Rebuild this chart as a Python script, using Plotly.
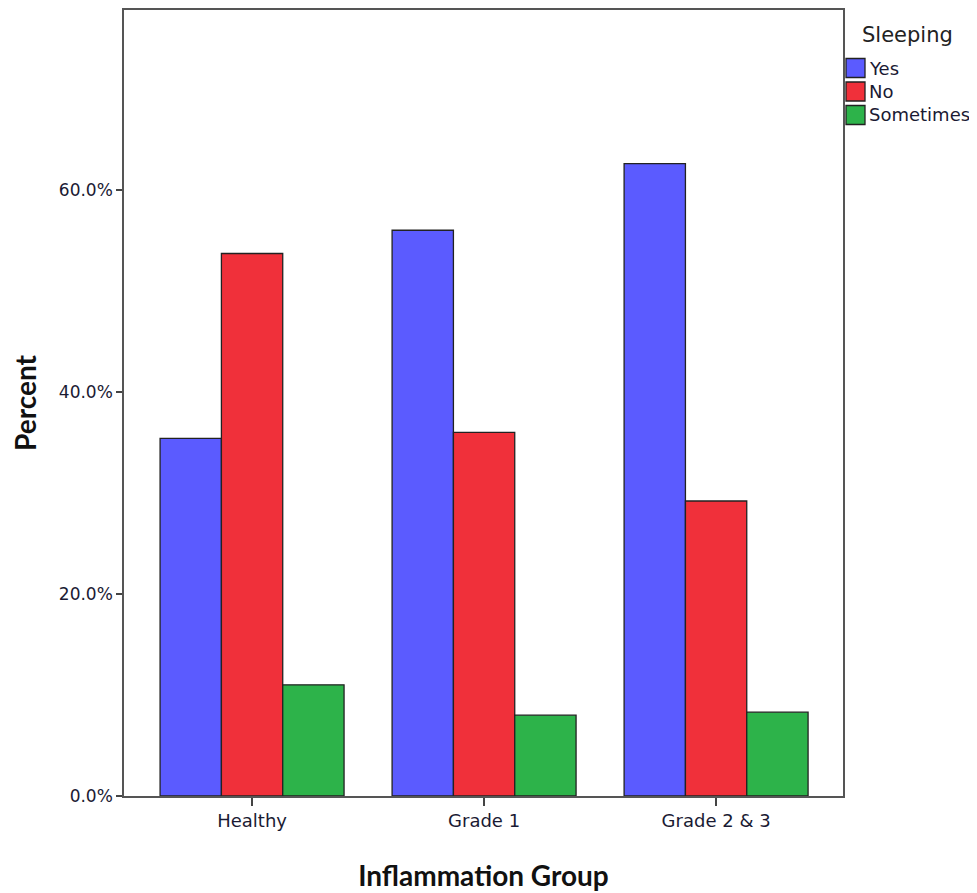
import plotly.graph_objects as go

categories = ["Healthy", "Grade 1", "Grade 2 & 3"]
series_names = ["Yes", "No", "Sometimes"]
yes_vals = [35.4, 56.0, 62.6]
no_vals = [53.7, 36.0, 29.2]
sometimes_vals = [11.0, 8.0, 8.3]
y_tick_vals = [0, 20, 40, 60]
y_tick_text = ["0.0%", "20.0%", "40.0%", "60.0%"]
legend_title = "Sleeping"
colors = ["#5b5bff", "#f0303a", "#2db34a"]

fig = go.Figure()
for name, vals, c in zip(series_names, [yes_vals, no_vals, sometimes_vals], colors):
    fig.add_trace(go.Bar(x=categories, y=vals, name=name,
                         marker=dict(color=c, line=dict(color="#222222", width=1.3))))

tick_font = "DejaVu Sans, sans-serif"
title_font = "Lato, Open Sans, sans-serif"
OFF = 8  # page body margin in the browser
W, H = 977 - OFF, 893 - OFF
L, T = 124 - OFF, 10 - OFF
R, B = 977 - 843, 893 - 796
pw, ph = W - L - R, H - T - B

def px_x(x):
    return (x - OFF - L) / pw

def px_y(y):
    return (H - B - (y - OFF)) / ph

fig.update_layout(
    barmode="group",
    bargap=0.207,
    bargroupgap=0,
    width=W, height=H,
    margin=dict(l=L, r=R, t=T, b=B, autoexpand=False),
    plot_bgcolor="white", paper_bgcolor="white",
    font=dict(family=tick_font, size=18, color="#1a1a33"),
    showlegend=False,
)

# custom legend (boxed swatches like the original)
shapes = []
annotations = [dict(text=legend_title, x=px_x(860), y=px_y(35), xref="paper", yref="paper",
                    xanchor="left", yanchor="middle", showarrow=False,
                    font=dict(family=tick_font, size=21, color="#222222"))]
centers = [68, 91.5, 115]
for name, c, cy in zip(series_names, colors, centers):
    shapes.append(dict(type="rect", xref="paper", yref="paper",
                       x0=px_x(846), x1=px_x(865), y0=px_y(cy + 9.5), y1=px_y(cy - 9.5),
                       fillcolor=c, line=dict(color="#222222", width=1.3)))
    annotations.append(dict(text=name, x=px_x(867), y=px_y(cy), xref="paper", yref="paper",
                            xanchor="left", yanchor="middle", showarrow=False,
                            font=dict(family=tick_font, size=18, color="#1a1a33")))
fig.update_layout(shapes=shapes, annotations=annotations)

fig.update_xaxes(
    type="category",
    range=[-0.552, 2.547],
    automargin=False,
    showline=True, linecolor="#555555", linewidth=1.5, mirror=True,
    ticks="outside", ticklen=8, tickcolor="#444444", tickwidth=1.5,
    showgrid=False,
    tickfont=dict(size=18, color="#1a1a33"),
    title=dict(text="<b>Inflammation Group</b>", font=dict(family=title_font, size=28, color="#111111"), standoff=36),
)
fig.update_yaxes(
    range=[0, 77.8],
    automargin=False,
    tickvals=y_tick_vals,
    ticktext=y_tick_text,
    showline=True, linecolor="#555555", linewidth=1.5, mirror=True,
    ticks="outside", ticklen=6, tickcolor="#444444", tickwidth=1.5,
    showgrid=False, zeroline=False,
    tickfont=dict(size=17, color="#1a1a33"),
    title=dict(text="<b>Percent</b>", font=dict(family=title_font, size=28, color="#111111"), standoff=18),
)
fig.write_html("out.html")
